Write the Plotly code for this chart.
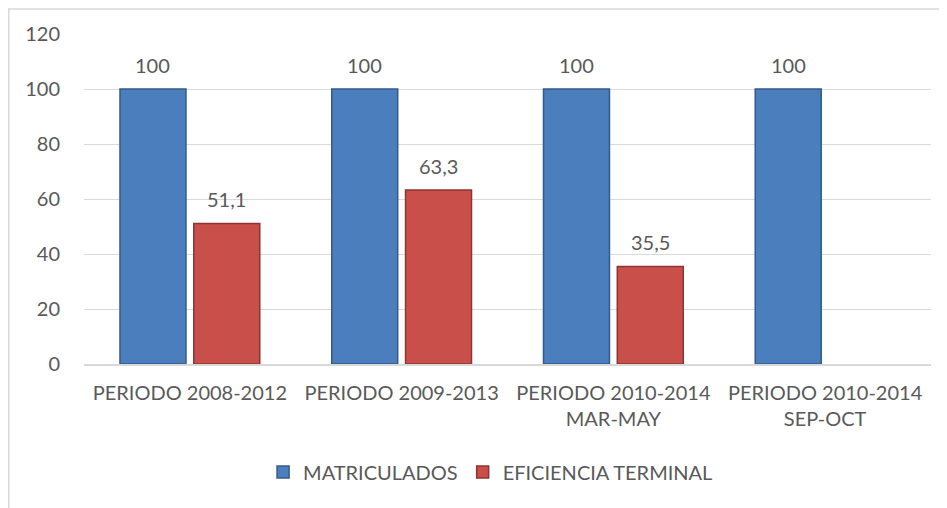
import plotly.graph_objects as go

categories = [
    "PERIODO 2008-2012",
    "PERIODO 2009-2013",
    "PERIODO 2010-2014<br>MAR-MAY",
    "PERIODO 2010-2014<br>SEP-OCT",
]
matriculados = [100, 100, 100, 100]
eficiencia = [51.1, 63.3, 35.5, None]

FONT = "Lato"
TEXT_COLOR = "#595959"
GRID = "#d9d9d9"


def _fmt(v):
    # decimal comma, as in the original chart
    return f"{v:g}".replace(".", ",")


fig = go.Figure()
fig.add_trace(go.Bar(
    x=categories, y=matriculados, name="MATRICULADOS",
    marker=dict(color="#4a7ebd", line=dict(color="#34598a", width=1.5)),
))
fig.add_trace(go.Bar(
    x=categories, y=eficiencia, name="EFICIENCIA TERMINAL",
    marker=dict(color="#c94f4b", line=dict(color="#8e3431", width=1.5)),
))

# value labels sit a bit higher above the bars than plotly's "outside" text
for series, shift in ((matriculados, -37), (eficiencia, 37)):
    for cat, val in zip(categories, series):
        if val is None:
            continue
        fig.add_annotation(
            x=cat, y=val, text=_fmt(val), showarrow=False,
            xshift=shift, yshift=10, yanchor="bottom",
            font=dict(family=FONT, size=20, color=TEXT_COLOR),
        )

# outer chart frame (only top and left edges visible in the original)
fig.add_shape(type="line", xref="paper", yref="paper",
              x0=-0.0897, x1=1.03, y0=1.0758, y1=1.0758,
              line=dict(color=GRID, width=1.5))
fig.add_shape(type="line", xref="paper", yref="paper",
              x0=-0.0888, x1=-0.0888, y0=1.0758, y1=-0.45,
              line=dict(color=GRID, width=1.5))

# the page body adds an 8px margin, so the figure is sized to fit inside it
fig.update_layout(
    width=939, height=500,
    barmode="group", bargap=0.303, bargroupgap=0.106,
    plot_bgcolor="white", paper_bgcolor="white",
    font=dict(family=FONT, size=20, color=TEXT_COLOR),
    margin=dict(l=76, r=16, t=26, b=144),
    showlegend=True,
    legend=dict(
        orientation="h", x=0.48, xanchor="center", y=-0.327, yanchor="middle",
        font=dict(family=FONT, size=20, color=TEXT_COLOR),
        itemwidth=30, traceorder="normal",
    ),
    xaxis=dict(
        showgrid=False, showline=True, linecolor=GRID, linewidth=1.5,
        ticks="", tickfont=dict(size=20), ticklabelstandoff=10,
    ),
    yaxis=dict(
        range=[0, 120], dtick=20, showgrid=True, gridcolor=GRID, gridwidth=1,
        zeroline=False, showline=False, ticks="", tickfont=dict(size=20),
        ticklabelstandoff=23,
    ),
)

fig.write_html("out.html")
